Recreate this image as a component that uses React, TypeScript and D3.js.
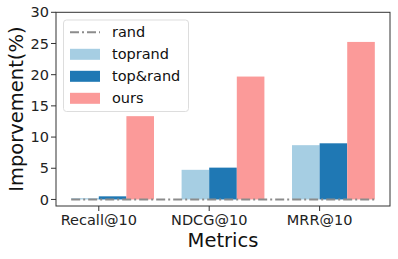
import * as d3 from "d3"

const categories = ["Recall@10", "NDCG@10", "MRR@10"]
const randValues = [0, 0, 0]
const toprandValues = [0.2, 4.75, 8.7]
const topAndRandValues = [0.5, 5.1, 9.0]
const oursValues = [13.35, 19.7, 25.25]
const yTicks = [0, 5, 10, 15, 20, 25, 30]

const series = [
  { name: "toprand", values: toprandValues, color: "#a6cee3", offset: -0.25 },
  { name: "top&rand", values: topAndRandValues, color: "#1f78b4", offset: 0 },
  { name: "ours", values: oursValues, color: "#fb9a99", offset: 0.25 },
]

const W = 398
const H = 259
const plot = { left: 56, right: 390, top: 12.3, bottom: 206 }
const barW = 0.25
const font = "DejaVu Sans, sans-serif"

export default function App() {
  // x in "category index" units, like matplotlib
  const x = d3.scaleLinear().domain([-0.3875, 2.6375]).range([plot.left, plot.right])
  const y = d3.scaleLinear().domain([-1.05, 30]).range([plot.bottom, plot.top])
  const bw = x(barW) - x(0)

  const randLine = d3
    .line<number>()
    .x((_, i) => x(i === 0 ? -0.25 : i === randValues.length - 1 ? i + 0.5 : i))
    .y((d) => y(d))

  const legend = [
    { name: "rand", kind: "line", color: "#8c8c8c" },
    ...series.map((s) => ({ name: s.name, kind: "bar", color: s.color })),
  ]

  return (
    <svg
      width={W}
      height={H}
      style={{ position: "absolute", left: 0, top: 0, background: "#fff" }}
      fontFamily={font}
    >
      {/* bars */}
      {series.map((s) =>
        s.values.map((v, i) => (
          <rect
            key={s.name + i}
            x={x(i + s.offset - 0.25 + 0.25)}
            y={y(v)}
            width={bw}
            height={y(0) - y(v)}
            fill={s.color}
          />
        ))
      )}

      {/* rand baseline */}
      <path
        d={randLine(randValues) || ""}
        fill="none"
        stroke="#8c8c8c"
        strokeWidth={2}
        strokeDasharray="9,3,2,3"
      />

      {/* frame */}
      <rect
        x={plot.left}
        y={plot.top}
        width={plot.right - plot.left}
        height={plot.bottom - plot.top}
        fill="none"
        stroke="#333"
        strokeWidth={1}
      />

      {/* y axis */}
      {yTicks.map((t) => (
        <g key={t}>
          <line x1={plot.left - 5} x2={plot.left} y1={y(t)} y2={y(t)} stroke="#333" />
          <text x={plot.left - 7} y={y(t)} dy="0.35em" textAnchor="end" fontSize={14.5} fill="#222">
            {t}
          </text>
        </g>
      ))}
      <text
        transform={`translate(${16 + 7},${(plot.top + plot.bottom) / 2}) rotate(-90)`}
        textAnchor="middle"
        fontSize={19.5}
        fill="#111"
      >
        Imporvement(%)
      </text>

      {/* x axis */}
      {categories.map((c, i) => (
        <g key={c}>
          <line x1={x(i)} x2={x(i)} y1={plot.bottom} y2={plot.bottom + 5} stroke="#333" />
          <text x={x(i)} y={225} textAnchor="middle" fontSize={14.5} fill="#222">
            {c}
          </text>
        </g>
      ))}
      <text x={(plot.left + plot.right) / 2} y={247} textAnchor="middle" fontSize={19.5} fill="#111">
        Metrics
      </text>

      {/* legend */}
      <rect x={63.5} y={20} width={125} height={91.5} rx={3} fill="#fff" fillOpacity={0.85} stroke="#ddd" />
      {legend.map((l, i) => {
        const cy = 32.3 + i * 22
        return (
          <g key={l.name}>
            {l.kind === "line" ? (
              <line x1={70} x2={100} y1={cy} y2={cy} stroke={l.color} strokeWidth={2} strokeDasharray="9,3,2,3" />
            ) : (
              <rect x={70} y={cy - 5.5} width={30} height={11} fill={l.color} />
            )}
            <text x={112} y={cy} dy="0.35em" fontSize={14.5} fill="#111">
              {l.name}
            </text>
          </g>
        )
      })}
    </svg>
  )
}
